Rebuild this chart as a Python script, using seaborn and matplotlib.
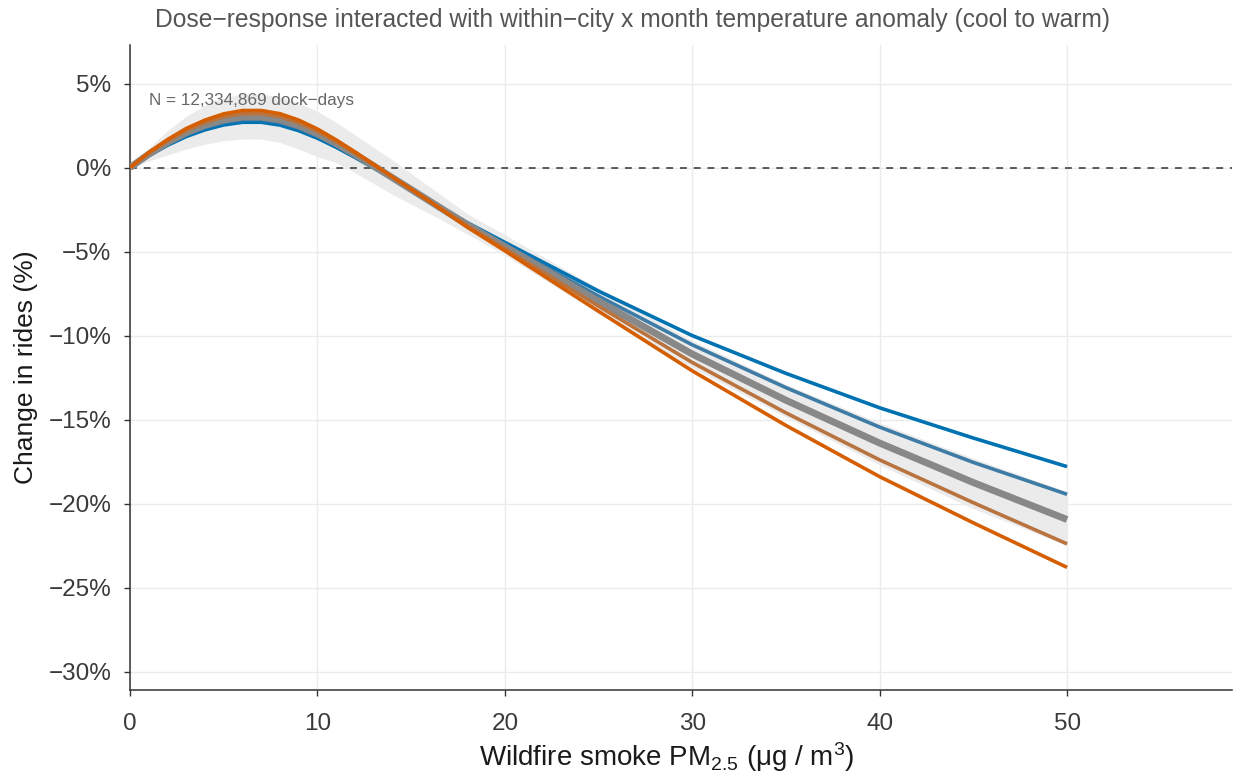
import numpy as np
import pandas as pd
import matplotlib
matplotlib.use("Agg")
import matplotlib.pyplot as plt
import seaborn as sns

# ---- data ----
x = [0, 1, 2, 3, 4, 5, 6, 7, 8, 9, 10, 11, 12, 13, 14, 16, 18, 20, 25, 30, 35, 40, 45, 50]

cool = [0, 0.70, 1.33, 1.85, 2.25, 2.54, 2.70, 2.70, 2.53, 2.20, 1.75, 1.21, 0.61, -0.02, -0.66,
        -1.98, -3.28, -4.45, -7.35, -10.0, -12.25, -14.3, -16.1, -17.8]
cool_mid = [0, 0.75, 1.41, 1.96, 2.39, 2.69, 2.86, 2.86, 2.69, 2.35, 1.88, 1.32, 0.69, 0.04, -0.63,
            -1.99, -3.34, -4.58, -7.65, -10.55, -13.1, -15.45, -17.55, -19.45]
average = [0, 0.80, 1.50, 2.08, 2.53, 2.85, 3.02, 3.02, 2.85, 2.50, 2.02, 1.43, 0.78, 0.10, -0.60,
           -2.00, -3.40, -4.70, -7.95, -11.1, -13.85, -16.4, -18.75, -20.95]
warm_mid = [0, 0.85, 1.59, 2.20, 2.68, 3.02, 3.21, 3.21, 3.03, 2.66, 2.16, 1.54, 0.86, 0.15, -0.57,
            -2.01, -3.47, -4.82, -8.25, -11.6, -14.6, -17.4, -19.95, -22.4]
warm = [0, 0.90, 1.67, 2.33, 2.83, 3.20, 3.40, 3.40, 3.21, 2.83, 2.30, 1.65, 0.94, 0.20, -0.55,
        -2.02, -3.55, -4.95, -8.55, -12.1, -15.35, -18.4, -21.15, -23.8]

ci_low = [0, 0.40, 0.75, 1.10, 1.40, 1.60, 1.70, 1.70, 1.50, 1.10, 0.65, 0.30, -0.30, -0.95, -1.60,
          -2.75, -3.95, -5.20, -8.70, -11.9, -14.85, -17.7, -20.3, -22.5]
ci_high = [0, 1.15, 2.20, 3.05, 3.70, 4.15, 4.40, 4.40, 4.20, 3.85, 3.35, 2.70, 1.95, 1.20, 0.45,
           -1.15, -2.75, -4.00, -7.20, -10.3, -12.9, -15.2, -17.3, -19.3]

series_names = ["cool", "cool_mid", "average", "warm_mid", "warm"]
series_vals = [cool, cool_mid, average, warm_mid, warm]
colors = {"cool": "#0072B2", "cool_mid": "#3E7CA6", "average": "#888888",
          "warm_mid": "#B8733F", "warm": "#D55E00"}
widths = {"cool": 2.6, "cool_mid": 2.6, "average": 5.0, "warm_mid": 2.6, "warm": 2.6}

x_ticks = [0, 10, 20, 30, 40, 50]
y_ticks = [5, 0, -5, -10, -15, -20, -25, -30]

title = "Dose\u2212response interacted with within\u2212city x month temperature anomaly (cool to warm)"
note = "N = 12,334,869 dock\u2212days"

# ---- plot ----
sns.set_theme(style="white")
plt.rcParams["font.family"] = ["Liberation Sans", "DejaVu Sans"]
plt.rcParams["mathtext.fontset"] = "custom"
plt.rcParams["mathtext.rm"] = "Liberation Sans"
plt.rcParams["mathtext.it"] = "Liberation Sans:italic"
plt.rcParams["mathtext.bf"] = "Liberation Sans:bold"

fig = plt.figure(figsize=(12.38, 7.8), dpi=100)
ax = fig.add_axes([130 / 1238, 1 - 690 / 780, (1232 - 130) / 1238, (690 - 45) / 780])

# grid
for xt in x_ticks:
    ax.axvline(xt, color="#EBEBEB", lw=1.0, zorder=0)
for yt in y_ticks:
    ax.axhline(yt, color="#EBEBEB", lw=1.0, zorder=0)

ax.fill_between(x, ci_low, ci_high, color="#EBEBEB", lw=0, zorder=1)
ax.axhline(0, color="#333333", lw=1.1, ls=(0, (4.5, 4.5)), zorder=2)

df = pd.DataFrame({"x": np.tile(x, len(series_names)),
                   "y": np.concatenate(series_vals),
                   "group": np.repeat(series_names, len(x))})
for name in series_names:
    sns.lineplot(data=df[df["group"] == name], x="x", y="y", color=colors[name],
                 lw=widths[name], ax=ax, zorder=3, solid_capstyle="butt")

ax.text(1.0, 4.0, note, ha="left", va="center", fontsize=12.3, color="#666666", zorder=5)

ax.set_xlim(0, 58.8)
ax.set_ylim(-31.1, 7.3)
ax.set_xticks(x_ticks)
ax.set_yticks(y_ticks)
ax.set_yticklabels([f"{v}%".replace("-", "\u2212") for v in y_ticks])
ax.tick_params(axis="both", direction="out", length=4.3, width=1.0, color="#333333",
               labelsize=17.5, labelcolor="#3A3A3A", bottom=True, left=True)
ax.tick_params(axis="y", pad=9)
ax.tick_params(axis="x", pad=12)

for side in ["top", "right"]:
    ax.spines[side].set_visible(False)
for side in ["left", "bottom"]:
    ax.spines[side].set_color("#333333")
    ax.spines[side].set_linewidth(1.1)

ax.set_xlabel("Wildfire smoke PM$_{2.5}$ (\u03bcg / m$^3$)", fontsize=20, color="#1A1A1A")
ax.xaxis.set_label_coords((667 - 130) / 1102, -(757 - 690) / 645)
ax.xaxis.label.set_va("center")
ax.set_ylabel("Change in rides (%)", fontsize=19, color="#1A1A1A", labelpad=8)

fig.text(155 / 1238, 1 - 20 / 780, title, ha="left", va="center", fontsize=17.7, color="#555555")

fig.savefig("out.png", dpi=100)
